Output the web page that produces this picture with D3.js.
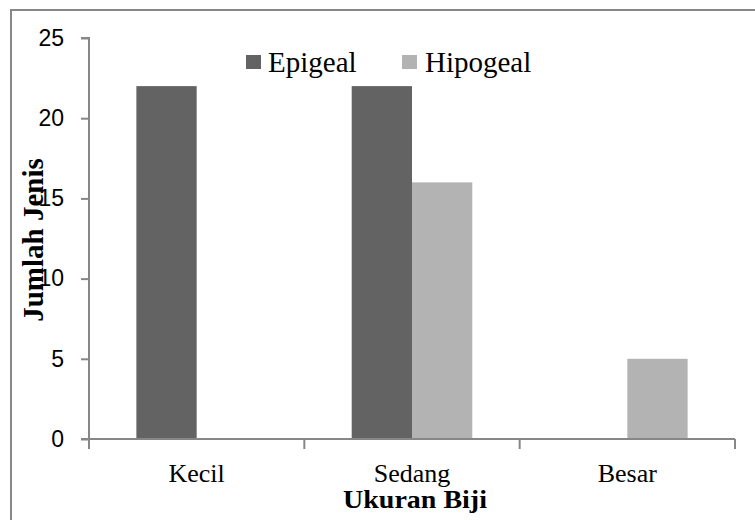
<!DOCTYPE html>
<html>
<head>
<meta charset="utf-8">
<script src="https://cdn.jsdelivr.net/npm/d3@7"></script>
<style>
  body { margin: 0; background: #fff; }
  svg { display: block; }
</style>
</head>
<body>
<svg id="chart" width="755" height="520"></svg>
<script>
const categories = ["Kecil", "Sedang", "Besar"];
const seriesNames = ["Epigeal", "Hipogeal"];
const epigeal = [22, 22, 0];
const hipogeal = [0, 16, 5];
const yTicks = [0, 5, 10, 15, 20, 25];
const colors = ["#636363", "#b3b3b3"];

const svg = d3.select("#chart");
const axisColor = "#878787";

// outer chart border
svg.append("rect")
  .attr("x", 11).attr("y", 10)
  .attr("width", 800).attr("height", 600)
  .attr("fill", "none").attr("stroke", axisColor).attr("stroke-width", 2);

const x0 = d3.scaleBand().domain(categories).range([89, 735]).paddingInner(0).paddingOuter(0);
const bw = x0.bandwidth();
const x1 = d3.scaleBand().domain(seriesNames).range([bw * 0.22, bw * 0.78]);
const y = d3.scaleLinear().domain([0, 25]).range([439, 38]);

const seriesVals = [epigeal, hipogeal];

// bars
seriesNames.forEach((s, si) => {
  svg.append("g").selectAll("rect")
    .data(categories.map((c, i) => ({ c, v: seriesVals[si][i] })))
    .join("rect")
    .attr("x", d => x0(d.c) + x1(s))
    .attr("width", x1.bandwidth())
    .attr("y", d => y(d.v))
    .attr("height", d => y(0) - y(d.v))
    .attr("fill", colors[si]);
});

// y axis
const yAxis = svg.append("g").attr("transform", "translate(89,0)")
  .call(d3.axisLeft(y).tickValues(yTicks).tickSize(8).tickPadding(17).tickFormat(d3.format("d")));
yAxis.select(".domain").attr("stroke", axisColor).attr("stroke-width", 2)
  .attr("d", "M-8,38H0V449");
yAxis.selectAll(".tick line").attr("stroke", axisColor).attr("stroke-width", 2);
yAxis.selectAll(".tick text")
  .attr("font-family", "'Liberation Sans', Arial, sans-serif")
  .attr("font-size", 23).attr("fill", "#000");

// x axis
const xAxisG = svg.append("g").attr("transform", "translate(0,439)");
xAxisG.append("line").attr("x1", 81).attr("x2", 735).attr("y1", 0).attr("y2", 0)
  .attr("stroke", axisColor).attr("stroke-width", 2);
const bounds = categories.map(c => x0(c)).concat([x0(categories[categories.length - 1]) + bw]);
xAxisG.selectAll("line.tk").data(bounds).join("line").attr("class", "tk")
  .attr("x1", d => d).attr("x2", d => d).attr("y1", 0).attr("y2", 10)
  .attr("stroke", axisColor).attr("stroke-width", 2);
xAxisG.selectAll("text.cat").data(categories).join("text").attr("class", "cat")
  .attr("x", d => x0(d) + bw / 2).attr("y", 43)
  .attr("text-anchor", "middle")
  .attr("font-family", "'Liberation Serif', 'Times New Roman', serif")
  .attr("font-size", 26).attr("fill", "#000")
  .text(d => d);

// axis titles
svg.append("text")
  .attr("transform", "translate(415,508) scale(1.12,1)")
  .attr("text-anchor", "middle")
  .attr("font-family", "'Liberation Serif', 'Times New Roman', serif")
  .attr("font-weight", "bold").attr("font-size", 25).attr("fill", "#000")
  .text("Ukuran Biji");

svg.append("text")
  .attr("transform", "translate(43,240) rotate(-90)")
  .attr("text-anchor", "middle")
  .attr("font-family", "'Liberation Serif', 'Times New Roman', serif")
  .attr("font-weight", "bold").attr("font-size", 29).attr("fill", "#000")
  .text("Jumlah Jenis");

// legend
const legendPos = [{ sx: 246, tx: 268 }, { sx: 402, tx: 425 }];
seriesNames.forEach((s, i) => {
  svg.append("rect").attr("x", legendPos[i].sx).attr("y", 55)
    .attr("width", 15).attr("height", 14).attr("fill", colors[i]);
  svg.append("text").attr("x", legendPos[i].tx).attr("y", 72)
    .attr("font-family", "'Liberation Serif', 'Times New Roman', serif")
    .attr("font-size", 29).attr("fill", "#000")
    .text(s);
});
</script>
</body>
</html>
